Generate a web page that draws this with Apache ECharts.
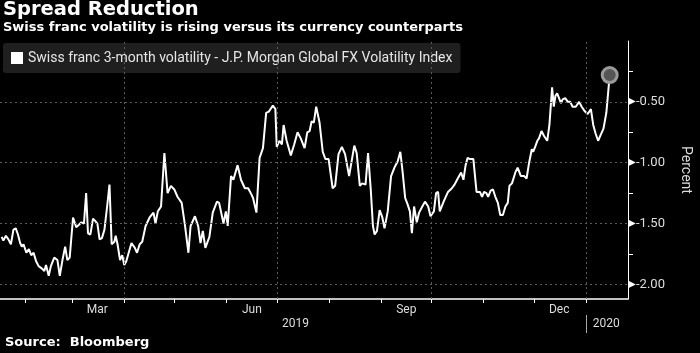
<!DOCTYPE html>
<html>
<head>
<meta charset="utf-8">
<script src="https://cdn.jsdelivr.net/npm/echarts@6/dist/echarts.min.js"></script>
<style>
  html, body { margin: 0; padding: 0; background: #000; }
  #chart { width: 700px; height: 353px; }
</style>
</head>
<body>
<div id="chart"></div>
<script>
// days after 17 Jan 2019
const startDay = '2019-01-17';
const dayOffsets = [1,2,3.5,5,6.5,8,9.4,10.7,12,13,
  14,15.7,17.2,18.6,20,21.5,23,25,26.4,27.4,
  29,30.3,32.3,34.2,35.6,37.2,38.8,40.1,41.5,43.5,
  45.4,47,48.5,50,51.3,52.4,53.8,55.4,56.8,58,
  59.3,60.7,62.2,63.8,65.2,66.5,68.1,68.9,70,71.5,
  72.8,74,75.2,78.3,80.3,81.6,83.2,84.7,86.7,89.1,
  91.4,92.6,94,95.9,97.9,99.8,101.8,103.8,105.7,108.2,
  110.2,112.2,113.5,116.1,118,119.4,120.8,122.3,124.7,126.7,
  129.2,130.5,133.1,134.5,135.6,137.6,139,141.5,143.5,145.8,
  147.8,149.7,150.7,152.7,154.6,156.6,158.5,160.1,162.5,164,
  164.8,166.4,167.9,168.9,170.7,173.2,175.2,177.2,179.1,181.4,
  183,184.4,185.6,186.9,188.3,190.3,192.2,193.8,195.7,198.1,
  199.6,201.6,203.6,205.5,207.9,211,212.4,214.3,215.7,217.7,
  219.2,220.8,222.1,223.1,224.5,226.1,227.7,229,230.9,232.9,
  234.9,236.8,238.4,239.8,241.3,242.7,244.1,245.3,246.6,248.2,
  249.6,251.5,253.1,255,256.4,258.4,259.7,260.9,261.9,264.2,
  266.8,269.1,270.7,272.6,274.6,276,277.3,278.5,279.9,281.9,
  283.8,285.8,287.1,288.3,289.7,290.7,292.2,293.6,295,296.5,
  297.9,299.5,301,302.4,303.4,304.9,306.9,308.3,309.3,310.2,
  312.2,313.6,315.1,316.7,317.5,318.7,320,321,322.5,324,
  325.9,327.2,328.8,329.8,330.8,331.8,332.8,334.1,335.1,336.6,
  338.2,339.6,341,342.9,344.9,346.4,348.4,350,351.9,353.3,
  354.7,356.2,357.8,359.4,361.1,363.1];

const volSpread = [-1.61,-1.64,-1.60,-1.63,-1.67,-1.55,-1.54,-1.59,-1.66,-1.69,
  -1.67,-1.74,-1.71,-1.76,-1.74,-1.81,-1.85,-1.87,-1.89,-1.84,
  -1.93,-1.85,-1.78,-1.80,-1.93,-1.80,-1.69,-1.80,-1.78,-1.45,
  -1.53,-1.51,-1.49,-1.50,-1.25,-1.58,-1.59,-1.46,-1.48,-1.50,
  -1.63,-1.62,-1.55,-1.36,-1.18,-1.67,-1.65,-1.60,-1.67,-1.80,
  -1.76,-1.84,-1.81,-1.66,-1.70,-1.74,-1.67,-1.65,-1.52,-1.45,
  -1.41,-1.50,-1.40,-1.36,-0.92,-1.25,-1.19,-1.22,-1.28,-1.33,
  -1.52,-1.74,-1.52,-1.44,-1.52,-1.66,-1.56,-1.70,-1.61,-1.41,
  -1.32,-1.33,-1.50,-1.40,-1.52,-1.11,-1.14,-1.02,-1.14,-1.21,
  -1.21,-1.26,-1.29,-1.41,-0.96,-0.88,-0.59,-0.58,-0.53,-0.56,
  -0.87,-0.82,-0.85,-0.69,-0.82,-0.94,-0.85,-0.75,-0.80,-0.88,
  -0.75,-0.74,-0.66,-0.67,-0.54,-0.67,-0.91,-0.97,-0.97,-1.21,
  -1.19,-0.93,-0.87,-0.93,-1.11,-0.86,-0.92,-1.19,-1.17,-1.18,
  -0.92,-1.22,-1.52,-1.59,-1.56,-1.39,-1.45,-1.54,-1.40,-1.11,
  -1.04,-0.99,-0.91,-1.08,-1.29,-1.34,-1.40,-1.58,-1.36,-1.49,
  -1.41,-1.36,-1.32,-1.36,-1.44,-1.40,-1.25,-1.24,-1.40,-1.32,
  -1.24,-1.21,-1.18,-1.13,-1.08,-1.14,-1.02,-0.96,-0.97,-0.97,
  -1.24,-1.24,-1.28,-1.24,-1.25,-1.28,-1.23,-1.22,-1.28,-1.33,
  -1.43,-1.43,-1.36,-1.33,-1.19,-1.17,-1.08,-1.04,-1.05,-1.11,
  -1.11,-1.13,-1.00,-0.89,-0.91,-0.87,-0.82,-0.80,-0.74,-0.78,
  -0.82,-0.69,-0.38,-0.54,-0.45,-0.43,-0.43,-0.51,-0.48,-0.47,
  -0.50,-0.50,-0.54,-0.54,-0.50,-0.54,-0.58,-0.60,-0.56,-0.69,
  -0.76,-0.82,-0.77,-0.72,-0.59,-0.28];

const monthTicks = ['2019-02-01','2019-03-01','2019-04-01','2019-05-01','2019-06-01','2019-07-01',
  '2019-08-01','2019-09-01','2019-10-01','2019-11-01','2019-12-01','2020-01-01'];
const monthLabelAt = ['2019-03-16','2019-06-16','2019-09-16','2019-12-16'];
const yearLabelAt = ['2019-07-12','2020-01-13'];
const yearBreak = ['2020-01-01'];
const quarterLines = ['2019-04-01','2019-07-01','2019-10-01','2020-01-01'];
const yTicks = [-2, -1.5, -1, -0.5];
const yMinorTicks = [-1.75, -1.25, -0.75, -0.25];
const monthNames = ['Jan','Feb','Mar','Apr','May','Jun','Jul','Aug','Sep','Oct','Nov','Dec'];

function ts(s) {
  const p = s.split('-').map(Number);
  return new Date(p[0], p[1] - 1, p[2]).getTime();
}
const DAY = 86400000;
const t0 = ts(startDay);
const seriesData = dayOffsets.map((d, i) => [t0 + d * DAY, volSpread[i]]);
const last = seriesData[seriesData.length - 1];

const xMin = t0;
const xMax = ts('2020-01-26');
const FONT = 'Roboto';
const HEAD = 'DejaVu Sans';
const gridColor = '#5a5a5a';
const gridLines = quarterLines.map(d => ({ xAxis: ts(d) }))
  .concat(yTicks.map(v => ({ yAxis: v })));

const chart = echarts.init(document.getElementById('chart'));
chart.setOption({
  backgroundColor: '#000',
  animation: false,
  textStyle: { fontFamily: FONT },
  title: [
    { text: 'Spread Reduction', left: 3, top: 0, padding: 0,
      textStyle: { color: '#fff', fontSize: 19.5, fontWeight: 'bold', fontFamily: HEAD } },
    { text: 'Swiss franc volatility is rising versus its currency counterparts', left: 3, top: 21, padding: 0,
      textStyle: { color: '#fff', fontSize: 13, fontWeight: 'bold', fontFamily: HEAD } },
    { text: 'Source:  Bloomberg', left: 5, top: 336, padding: 0,
      textStyle: { color: '#fff', fontSize: 13, fontWeight: 'bold', fontFamily: HEAD } }
  ],
  legend: {
    left: 3, top: 43,
    padding: [8, 8, 8, 8],
    backgroundColor: 'rgba(42,42,42,0.75)',
    borderRadius: 3,
    icon: 'rect',
    itemWidth: 12, itemHeight: 12, itemGap: 5,
    textStyle: { color: '#e6e6e6', fontSize: 14, fontFamily: FONT },
    data: ['Swiss franc 3-month volatility - J.P. Morgan Global FX Volatility Index']
  },
  grid: { left: 0, right: 63, top: 41, bottom: 54, containLabel: false },
  xAxis: [
    {
      type: 'value', min: xMin, max: xMax, gridIndex: 0, position: 'bottom',
      axisLine: { show: true, onZero: false, lineStyle: { color: '#fff', width: 1.5 } },
      axisTick: { show: true, length: 4, customValues: monthTicks.map(ts), lineStyle: { color: '#fff' } },
      axisLabel: {
        show: true, margin: 5, color: '#ddd', fontSize: 12, fontFamily: FONT,
        customValues: monthLabelAt.map(ts),
        formatter: v => monthNames[new Date(v).getMonth()]
      },
      splitLine: { show: false }
    },
    {
      type: 'value', min: xMin, max: xMax, gridIndex: 0, position: 'bottom', offset: 16,
      axisLine: { show: true, onZero: false, lineStyle: { color: '#000', opacity: 0 } },
      axisTick: { show: true, length: 18, customValues: yearBreak.map(ts), lineStyle: { color: '#aaa', width: 1 } },
      axisLabel: {
        show: true, margin: 3, color: '#ddd', fontSize: 12, fontFamily: FONT,
        customValues: yearLabelAt.map(ts),
        formatter: v => String(new Date(v).getFullYear())
      },
      splitLine: { show: false }
    }
  ],
  yAxis: [
    {
      type: 'value', min: -2.12, max: 0, position: 'right',
      name: 'Percent', nameLocation: 'middle', nameRotate: -90, nameGap: 50,
      nameTextStyle: { color: '#ddd', fontSize: 14, fontFamily: FONT },
      axisLine: { show: true, onZero: false, lineStyle: { color: '#fff', width: 1 } },
      axisTick: { show: false, customValues: yTicks },
      axisLabel: {
        show: true, margin: 0, customValues: yTicks, color: '#ddd', fontSize: 13, fontFamily: FONT,
        formatter: v => '{t|▶}' + v.toFixed(2),
        rich: { t: { color: '#fff', fontSize: 10, padding: [0, 0, 0, 0] } }
      },
      splitLine: { show: false }
    },
    {
      type: 'value', min: -2.12, max: 0, position: 'right',
      axisLine: { show: false, onZero: false },
      axisTick: { show: true, length: 5, inside: false, customValues: yMinorTicks, lineStyle: { color: '#fff' } },
      axisLabel: { show: false },
      splitLine: { show: false }
    }
  ],
  series: [
    {
      name: 'Swiss franc 3-month volatility - J.P. Morgan Global FX Volatility Index',
      type: 'line',
      xAxisIndex: 0, yAxisIndex: 0,
      data: seriesData,
      showSymbol: false,
      lineStyle: { color: '#fff', width: 2 },
      itemStyle: { color: '#fff' },
      z: 3,
      markLine: {
        silent: true, symbol: 'none', label: { show: false },
        lineStyle: { color: gridColor, type: [2, 3], width: 1 },
        data: gridLines
      },
      markPoint: {
        symbol: 'circle', symbolSize: 15,
        itemStyle: { color: '#555', borderColor: '#9a9a9a', borderWidth: 3 },
        label: { show: false },
        data: [{ coord: last }]
      }
    }
  ]
});
</script>
</body>
</html>
